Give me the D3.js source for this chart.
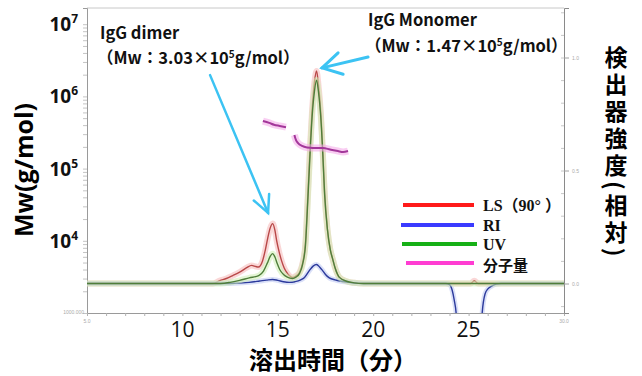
<!DOCTYPE html>
<html><head><meta charset="utf-8">
<script src="https://cdn.jsdelivr.net/npm/d3@7"></script>
<style>body{margin:0;background:#fff;} svg{display:block;}</style>
</head><body><svg id="c" width="642" height="376"></svg>
<script>
// ---------- data (elution time in min, detector intensity relative / Mw g/mol) ----------
const lsTrace = [[5,0],[11.6,0],[11.96,0.013],[12.3,0.022],[12.64,0.035],[13.0,0.05],[13.37,0.07],[13.63,0.08],[13.85,0.075],[13.98,0.073],[14.2,0.10],[14.35,0.15],[14.47,0.2],[14.6,0.245],[14.73,0.265],[14.85,0.235],[14.94,0.19],[15.07,0.14],[15.2,0.10],[15.33,0.07],[15.46,0.05],[15.6,0.035],[15.77,0.027],[15.95,0.033],[16.14,0.05],[16.3,0.09],[16.45,0.18],[16.58,0.40],[16.70,0.62],[16.80,0.77],[16.92,0.89],[17.03,0.94],[17.13,0.88],[17.25,0.76],[17.36,0.58],[17.45,0.41],[17.6,0.24],[17.75,0.15],[17.87,0.11],[18.0,0.07],[18.23,0.027],[18.6,0.01],[19.0,0.003],[19.5,0],[25.1,0],[25.3,0.012],[25.5,0],[30,0]];
const uvTrace = [[5,0],[12.0,0],[12.5,0.005],[13.0,0.014],[13.5,0.025],[14.0,0.035],[14.25,0.055],[14.45,0.09],[14.6,0.12],[14.73,0.132],[14.85,0.117],[14.97,0.088],[15.1,0.062],[15.3,0.04],[15.5,0.028],[15.77,0.022],[15.95,0.028],[16.14,0.045],[16.3,0.085],[16.45,0.17],[16.58,0.38],[16.70,0.59],[16.80,0.74],[16.92,0.85],[17.03,0.90],[17.13,0.85],[17.25,0.74],[17.36,0.57],[17.45,0.40],[17.6,0.24],[17.75,0.15],[17.87,0.11],[18.0,0.07],[18.23,0.027],[18.6,0.01],[19.0,0.003],[19.5,0],[30,0]];
const riTrace = [[5,0],[12.5,0],[13.5,0.005],[14.05,0.011],[14.4,0.015],[14.73,0.018],[15.0,0.014],[15.3,0.008],[15.6,0.005],[15.9,0.008],[16.2,0.016],[16.4,0.027],[16.66,0.058],[16.85,0.077],[17.03,0.084],[17.2,0.072],[17.34,0.058],[17.5,0.04],[17.7,0.025],[18.0,0.016],[18.2,0.012],[18.6,0.006],[18.9,0.003],[19.5,0],[23.8,0],[24.0,-0.005],[24.14,-0.03],[24.25,-0.075],[24.35,-0.135],[24.45,-0.3],[24.6,-0.5],[25.5,-0.5],[25.62,-0.3],[25.71,-0.133],[25.87,-0.044],[26.0,-0.025],[26.18,-0.013],[26.44,-0.003],[26.7,0],[30,0]];
const mwSegment1 = [[14.22,456000],[14.55,430000],[14.8,405000],[15.1,390000],[15.43,375000]];
const mwSegment2 = [[15.87,292000],[15.95,249000],[16.06,226000],[16.27,206000],[16.53,196000],[16.84,193000],[17.37,193000],[17.74,184000],[18.15,175000],[18.42,170000],[18.68,175000]];
const xTickValues = [10, 15, 20, 25];
const yTickExponents = [4, 5, 6, 7];
const rightTickValues = [0.0, 0.5, 1.0];
const legendLabels = ["LS（90° ）", "RI", "UV", "分子量"];
const legendColors = ["#ff1a1a", "#3a3aff", "#16b016", "#ff3dd2"];
// annotation arrows in data units [time, relative intensity]
const dimerArrow = [[11.45, 0.922], [14.49, 0.312]];
const monomerArrow = [[19.73, 1.002], [17.32, 0.954]];

// ---------- scales ----------
const L = 87, R = 564, T = 8, B = 313;
const svg = d3.select('#c');
const x = d3.scaleLinear().domain([5, 30]).range([L, R]);
const yMw = d3.scaleLog().domain([1e3, Math.pow(10, 3 + (B - T) / 72.2)]).range([B, T]);
const yI = d3.scaleLinear().domain([-29.5 / 226, 275.5 / 226]).range([B, T]);

svg.append('defs').append('clipPath').attr('id', 'clip')
  .append('rect').attr('x', L).attr('y', T).attr('width', R - L).attr('height', B - T);

// ---------- frame & axes ----------
const axisColor = '#9a9a9a';
svg.append('line').attr('x1', L).attr('x2', R).attr('y1', T).attr('y2', T).attr('stroke', '#c8c8c8');
const logTicks = [];
for (let e = 3; e <= 7; e++) for (let m = 1; m <= 9; m++) { const v = m * Math.pow(10, e); if (v <= yMw.domain()[1]) logTicks.push(v); }
const gl = svg.append('g').attr('transform', `translate(${L},0)`)
  .call(d3.axisLeft(yMw).tickValues(logTicks).tickSize(4).tickFormat(''));
gl.select('.domain').attr('stroke', axisColor);
gl.selectAll('.tick line').attr('stroke', '#c4c4c4');
const gb = svg.append('g').attr('transform', `translate(0,${B})`)
  .call(d3.axisBottom(x).tickValues(d3.range(5, 31, 1)).tickSize(3).tickFormat(''));
gb.select('.domain').attr('stroke', axisColor);
gb.selectAll('.tick line').attr('stroke', '#b0b0b0');
const gr = svg.append('g').attr('transform', `translate(${R},0)`)
  .call(d3.axisRight(yI).tickValues(rightTickValues).tickSize(5).tickFormat(d3.format('.1f')));
gr.select('.domain').attr('stroke', '#8a8a8a');
gr.selectAll('.tick line').attr('stroke', '#a0a0a0');
gr.selectAll('.tick text').attr('font-size', 5).attr('fill', '#aaa').attr('font-family', 'Liberation Sans');
const grm = svg.append('g').attr('transform', `translate(${R},0)`)
  .call(d3.axisLeft(yI).tickValues(d3.range(-1, 13).map(d => d / 10)).tickSize(3).tickFormat(''));
grm.select('.domain').remove();
grm.selectAll('.tick line').attr('stroke', '#c8c8c8');

// tiny original axis labels
svg.append('text').attr('x', L - 3).attr('y', yMw(1e3) + 1).attr('text-anchor', 'end')
  .attr('font-size', 5).attr('fill', '#aaa').attr('font-family', 'Liberation Sans').text('1000.000');
svg.append('text').attr('x', x(5)).attr('y', B + 10).attr('text-anchor', 'middle')
  .attr('font-size', 5).attr('fill', '#aaa').attr('font-family', 'Liberation Sans').text('5.0');
svg.append('text').attr('x', x(30)).attr('y', B + 10).attr('text-anchor', 'middle')
  .attr('font-size', 5).attr('fill', '#aaa').attr('font-family', 'Liberation Sans').text('30.0');

// big overlay tick labels
yTickExponents.forEach(e => {
  const t = svg.append('text').attr('x', 78).attr('y', yMw(Math.pow(10, e)) + 7)
    .attr('text-anchor', 'end').attr('font-family', 'Open Sans, Liberation Sans').attr('font-weight', 'bold')
    .attr('fill', '#111');
  t.append('tspan').attr('font-size', 19).text('10');
  t.append('tspan').attr('font-size', 12).attr('dy', -8).text(e);
});
xTickValues.forEach(v => {
  svg.append('text').attr('x', x(v)).attr('y', 337).attr('text-anchor', 'middle')
    .attr('font-family', 'Open Sans, Liberation Sans').attr('font-size', 21).attr('fill', '#111').text(v);
});

// axis titles
svg.append('text').attr('transform', 'translate(33,170) rotate(-90)').attr('text-anchor', 'middle')
  .attr('font-family', 'Open Sans, Liberation Sans').attr('font-weight', 'bold').attr('font-size', 25)
  .attr('fill', '#000').text('Mw(g/mol)');
svg.append('text').attr('x', 333).attr('y', 369).attr('text-anchor', 'middle')
  .attr('font-family', 'Noto Sans CJK JP').attr('font-weight', 'bold').attr('font-size', 24)
  .attr('fill', '#000').text('溶出時間（分）');
svg.append('text').attr('x', 616).attr('y', 46)
  .style('writing-mode', 'vertical-rl').style('letter-spacing', '4px')
  .attr('font-family', 'Noto Sans CJK JP').attr('font-weight', 'bold').attr('font-size', 23)
  .attr('fill', '#000').text('検出器強度(相対)');

// ---------- traces ----------
const plot = svg.append('g').attr('clip-path', 'url(#clip)');
const lineI = d3.line().x(d => x(d[0])).y(d => yI(d[1])).curve(d3.curveMonotoneX);
const lineM = d3.line().x(d => x(d[0])).y(d => yMw(d[1])).curve(d3.curveMonotoneX);
function drawTrace(data, gen, core, halo, hw, cw) {
  plot.append('path').datum(data).attr('d', gen).attr('fill', 'none')
    .attr('stroke', halo).attr('stroke-width', hw).attr('stroke-opacity', 0.55).attr('stroke-linejoin', 'round');
  plot.append('path').datum(data).attr('d', gen).attr('fill', 'none')
    .attr('stroke', core).attr('stroke-width', cw).attr('stroke-linejoin', 'round');
}
drawTrace(lsTrace, lineI, '#b84848', '#f6b6b6', 6, 1.4);
drawTrace(riTrace, lineI, '#2c3a9c', '#bcc6f2', 5, 1.4);
drawTrace(uvTrace, lineI, '#4f7e3a', '#cdeeb2', 6, 1.4);
drawTrace(mwSegment1, lineM, '#a3379a', '#f4a6e8', 7, 2);
drawTrace(mwSegment2, lineM, '#a3379a', '#f4a6e8', 7, 2);

// ---------- legend ----------
const legY = [205, 225, 244, 263];
const legTextY = [210.5, 230.5, 249.5, 270.5];
const legX1 = [403, 401, 402, 406], legX2 = [474, 474, 477, 474];
legendLabels.forEach((lab, i) => {
  svg.append('line').attr('x1', legX1[i]).attr('x2', legX2[i]).attr('y1', legY[i]).attr('y2', legY[i])
    .attr('stroke', legendColors[i]).attr('stroke-width', 4);
  svg.append('text').attr('x', 483).attr('y', legTextY[i])
    .attr('font-family', i === 3 ? 'Noto Sans CJK JP' : 'Liberation Serif, Noto Sans CJK JP')
    .attr('font-weight', 'bold').attr('font-size', i === 3 ? 15 : 16).attr('fill', '#111').text(lab);
});

// ---------- annotations ----------
const cyan = '#3cc3f3';
function arrow(pts, w, len, ang) {
  const p0 = [x(pts[0][0]), yI(pts[0][1])], p1 = [x(pts[1][0]), yI(pts[1][1])];
  const dx = p0[0] - p1[0], dy = p0[1] - p1[1], d = Math.hypot(dx, dy);
  const ux = dx / d, uy = dy / d, a = ang * Math.PI / 180;
  const l1 = [p1[0] + len * (ux * Math.cos(a) - uy * Math.sin(a)), p1[1] + len * (ux * Math.sin(a) + uy * Math.cos(a))];
  const l2 = [p1[0] + len * (ux * Math.cos(-a) - uy * Math.sin(-a)), p1[1] + len * (ux * Math.sin(-a) + uy * Math.cos(-a))];
  const g = svg.append('g').attr('stroke', cyan).attr('stroke-width', w).attr('fill', 'none').attr('stroke-linecap', 'round');
  g.append('path').attr('d', `M${p0}L${p1}`);
  g.append('path').attr('d', `M${l1}L${p1}L${l2}`).attr('stroke-linejoin', 'miter');
}
arrow(dimerArrow, 2.5, 19, 26);
arrow(monomerArrow, 3, 22, 30);

function annot(xp, yp, parts) {
  const t = svg.append('text').attr('x', xp).attr('y', yp).attr('font-family', 'Noto Sans CJK JP')
    .attr('font-weight', 'bold').attr('font-size', 16.5).attr('fill', '#111');
  parts.forEach(p => {
    const s = t.append('tspan').text(p[0]);
    if (p[1] === 'sup') s.attr('font-size', 10).attr('dy', -6);
    if (p[1] === 'down') s.attr('dy', 6);
  });
}
annot(100, 39, [['IgG dimer']]);
annot(97, 64, [['（Mw：3.03×10'], ['5', 'sup'], ['g/mol）', 'down']]);
annot(368, 26, [['IgG Monomer']]);
annot(365, 52, [['（Mw：1.47×10'], ['5', 'sup'], ['g/mol）', 'down']]);
</script></body></html>
